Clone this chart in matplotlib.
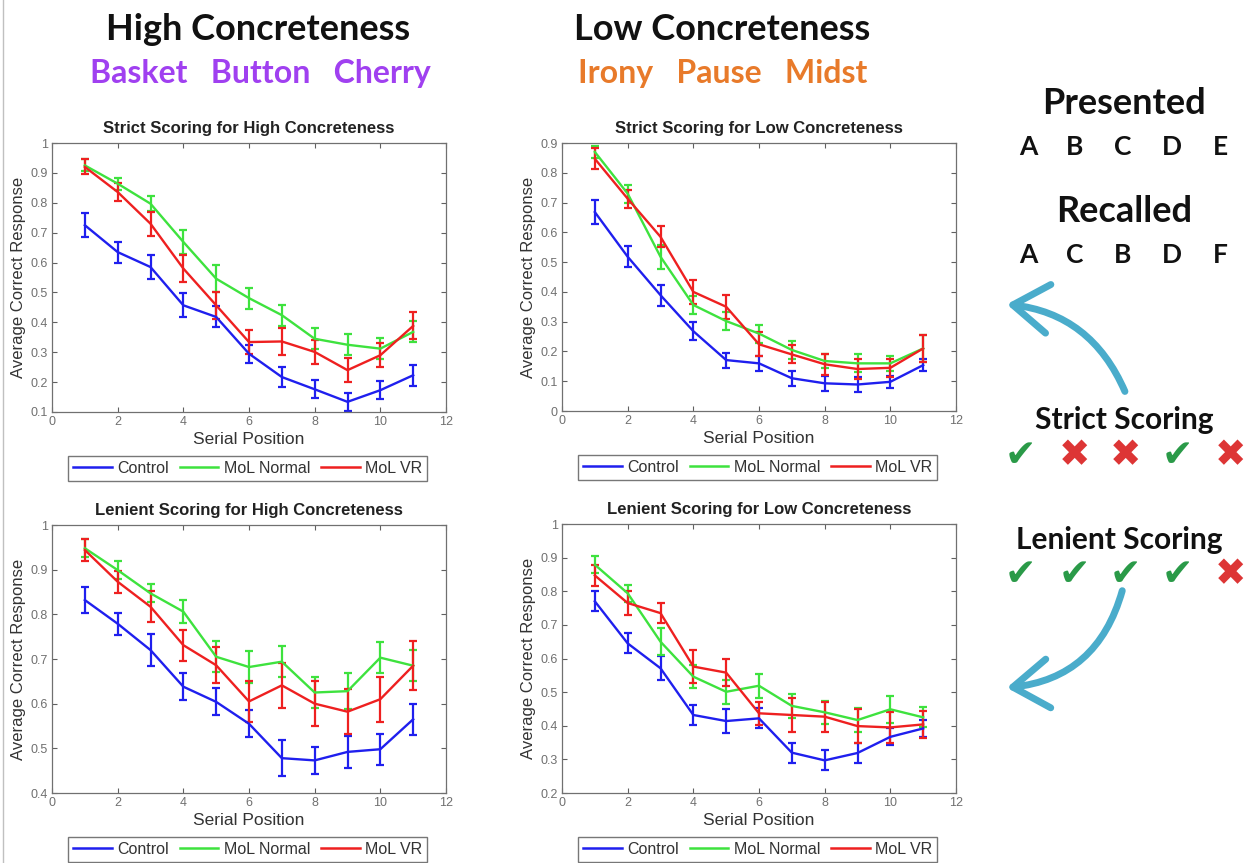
import numpy as np
import matplotlib.pyplot as plt
from matplotlib.patches import FancyArrowPatch, ArrowStyle
from matplotlib.lines import Line2D

W, H = 1257, 863

positions = np.arange(1, 12)
groups = ['Control', 'MoL Normal', 'MoL VR']
colors = ['#1f1fee', '#3ee23e', '#ee2020']

# strict scoring, high concreteness
sh_control = [0.725, 0.635, 0.585, 0.457, 0.418, 0.295, 0.217, 0.176, 0.134, 0.173, 0.223]
sh_normal = [0.925, 0.864, 0.797, 0.669, 0.546, 0.481, 0.424, 0.345, 0.325, 0.312, 0.368]
sh_vr = [0.920, 0.836, 0.730, 0.580, 0.457, 0.334, 0.336, 0.301, 0.240, 0.290, 0.388]
sh_control_err = [0.04, 0.035, 0.04, 0.04, 0.035, 0.03, 0.035, 0.03, 0.03, 0.03, 0.035]
sh_normal_err = [0.02, 0.02, 0.025, 0.04, 0.045, 0.035, 0.035, 0.035, 0.035, 0.035, 0.035]
sh_vr_err = [0.025, 0.03, 0.04, 0.045, 0.045, 0.04, 0.045, 0.04, 0.04, 0.04, 0.045]

# strict scoring, low concreteness
sl_control = [0.668, 0.518, 0.389, 0.268, 0.171, 0.160, 0.110, 0.093, 0.089, 0.098, 0.154]
sl_normal = [0.870, 0.730, 0.518, 0.356, 0.302, 0.260, 0.205, 0.168, 0.160, 0.160, 0.210]
sl_vr = [0.847, 0.713, 0.585, 0.400, 0.350, 0.224, 0.190, 0.157, 0.141, 0.145, 0.210]
sl_control_err = [0.04, 0.035, 0.035, 0.03, 0.025, 0.025, 0.025, 0.025, 0.025, 0.02, 0.02]
sl_normal_err = [0.02, 0.03, 0.04, 0.03, 0.03, 0.03, 0.03, 0.025, 0.03, 0.025, 0.045]
sl_vr_err = [0.035, 0.03, 0.035, 0.04, 0.04, 0.04, 0.03, 0.035, 0.035, 0.03, 0.045]

# lenient scoring, high concreteness
lh_control = [0.832, 0.779, 0.720, 0.638, 0.604, 0.555, 0.478, 0.473, 0.492, 0.498, 0.565]
lh_normal = [0.948, 0.899, 0.847, 0.806, 0.705, 0.682, 0.694, 0.625, 0.628, 0.703, 0.685]
lh_vr = [0.944, 0.873, 0.817, 0.731, 0.686, 0.605, 0.641, 0.600, 0.582, 0.610, 0.685]
lh_control_err = [0.03, 0.025, 0.035, 0.03, 0.03, 0.03, 0.04, 0.03, 0.035, 0.035, 0.035]
lh_normal_err = [0.02, 0.02, 0.02, 0.025, 0.035, 0.035, 0.035, 0.035, 0.04, 0.035, 0.035]
lh_vr_err = [0.025, 0.025, 0.035, 0.035, 0.04, 0.045, 0.05, 0.05, 0.05, 0.05, 0.055]

# lenient scoring, low concreteness
ll_control = [0.770, 0.645, 0.571, 0.432, 0.414, 0.422, 0.320, 0.297, 0.319, 0.367, 0.392]
ll_normal = [0.879, 0.794, 0.650, 0.546, 0.501, 0.519, 0.459, 0.440, 0.417, 0.449, 0.425]
ll_vr = [0.847, 0.765, 0.735, 0.576, 0.558, 0.437, 0.432, 0.427, 0.399, 0.395, 0.404]
ll_control_err = [0.03, 0.03, 0.035, 0.03, 0.035, 0.03, 0.03, 0.03, 0.03, 0.025, 0.025]
ll_normal_err = [0.025, 0.025, 0.04, 0.035, 0.035, 0.035, 0.035, 0.035, 0.035, 0.04, 0.03]
ll_vr_err = [0.03, 0.035, 0.03, 0.05, 0.04, 0.035, 0.05, 0.045, 0.05, 0.045, 0.04]

panels = [
    ('Strict Scoring for High Concreteness', (52, 143, 446, 412), (0.1, 1.0),
     [sh_control, sh_normal, sh_vr], [sh_control_err, sh_normal_err, sh_vr_err]),
    ('Strict Scoring for Low Concreteness', (562, 143, 956, 411), (0.0, 0.9),
     [sl_control, sl_normal, sl_vr], [sl_control_err, sl_normal_err, sl_vr_err]),
    ('Lenient Scoring for High Concreteness', (52, 525, 446, 793), (0.4, 1.0),
     [lh_control, lh_normal, lh_vr], [lh_control_err, lh_normal_err, lh_vr_err]),
    ('Lenient Scoring for Low Concreteness', (562, 524, 956, 793), (0.2, 1.0),
     [ll_control, ll_normal, ll_vr], [ll_control_err, ll_normal_err, ll_vr_err]),
]

plt.rcParams['font.family'] = ['Liberation Sans', 'DejaVu Sans']

fig = plt.figure(figsize=(W / 100, H / 100), dpi=100)


def rect(l, t, r, b):
    return [l / W, 1 - b / H, (r - l) / W, (b - t) / H]


for title, box, ylim, series, errs in panels:
    ax = fig.add_axes(rect(*box))
    handles = []
    for name, vals, err, c in zip(groups, series, errs, colors):
        ax.errorbar(positions, vals, yerr=err, color=c, lw=1.7, elinewidth=1.6,
                    capsize=3, capthick=1.6)
        handles.append(Line2D([], [], color=c, lw=1.8, label=name))
    ax.set_xlim(0, 12)
    ax.set_ylim(*ylim)
    ax.set_xticks(np.arange(0, 13, 2))
    ax.set_yticks(np.round(np.arange(ylim[0], ylim[1] + 0.001, 0.1), 1))
    ax.yaxis.set_major_formatter(plt.FuncFormatter(lambda v, p: ('%g' % round(v, 1))))
    ax.tick_params(direction='in', top=True, right=True, length=3.5, width=0.8,
                   labelsize=9, labelcolor='#707070', color='#606060', pad=3)
    for s in ax.spines.values():
        s.set_color('#707070')
        s.set_linewidth(0.9)
    ax.set_title(title, fontsize=12, fontweight='bold', color='#222222', pad=7)
    ax.set_xlabel('Serial Position', fontsize=12.5, color='#333333', labelpad=3)
    ax.set_ylabel('Average Correct Response', fontsize=12, color='#333333', labelpad=3)
    leg = ax.legend(handles=handles, loc='center', bbox_to_anchor=(0.497, -0.21), ncol=3,
                    fontsize=11.5, frameon=True, fancybox=False, edgecolor='#555555',
                    handlelength=2.4, columnspacing=0.7, handletextpad=0.35,
                    borderpad=0.3, borderaxespad=0)
    leg.get_frame().set_linewidth(1.0)
    for t in leg.get_texts():
        t.set_color('#333333')

hfont = ['Lato', 'DejaVu Sans']
fig.text(258 / W, 1 - 30 / H, 'High Concreteness', ha='center', va='center',
         fontsize=26, fontweight='bold', family=hfont, color='#111111')
fig.text(260 / W, 1 - 73 / H, 'Basket   Button   Cherry', ha='center', va='center',
         fontsize=23, fontweight='bold', family=hfont, color='#a040f0')
fig.text(722 / W, 1 - 30 / H, 'Low Concreteness', ha='center', va='center',
         fontsize=26, fontweight='bold', family=hfont, color='#111111')
fig.text(723 / W, 1 - 73 / H, 'Irony   Pause   Midst', ha='center', va='center',
         fontsize=23, fontweight='bold', family=hfont, color='#e87a2a')

letter_x = [1028, 1075, 1123, 1172, 1220]
presented = ['A', 'B', 'C', 'D', 'E']
recalled = ['A', 'C', 'B', 'D', 'F']
strict_marks = [True, False, False, True, False]
lenient_marks = [True, True, True, True, False]

fig.text(1124 / W, 1 - 103 / H, 'Presented', ha='center', va='center',
         fontsize=26, fontweight='bold', family=hfont, color='#111111')
fig.text(1124 / W, 1 - 211 / H, 'Recalled', ha='center', va='center',
         fontsize=26, fontweight='bold', family=hfont, color='#111111')
for x, a, b in zip(letter_x, presented, recalled):
    fig.text(x / W, 1 - 147 / H, a, ha='center', va='center', fontsize=19,
             fontweight='bold', family=hfont, color='#111111')
    fig.text(x / W, 1 - 255 / H, b, ha='center', va='center', fontsize=19,
             fontweight='bold', family=hfont, color='#111111')

fig.text(1124 / W, 1 - 420 / H, 'Strict Scoring', ha='center', va='center',
         fontsize=21.5, fontweight='bold', family=hfont, color='#111111')
fig.text(1119 / W, 1 - 540 / H, 'Lenient Scoring', ha='center', va='center',
         fontsize=21.5, fontweight='bold', family=hfont, color='#111111')
mark_x = [1020, 1074, 1125, 1177, 1230]
for x, s, l in zip(mark_x, strict_marks, lenient_marks):
    for y, ok in ((456, s), (575, l)):
        fig.text(x / W, 1 - y / H, '\u2714' if ok else '\u2716', ha='center', va='center',
                 fontsize=27, family=['DejaVu Sans'],
                 color='#2a9a48' if ok else '#dd3535')

astyle = ArrowStyle('->', head_length=0.8, head_width=0.55)
arrow1 = FancyArrowPatch((1126 / W, 1 - 394 / H), (1004 / W, 1 - 304 / H),
                         transform=fig.transFigure, connectionstyle='arc3,rad=0.3',
                         arrowstyle=astyle, mutation_scale=32, lw=5, color='#4aaccb')
arrow2 = FancyArrowPatch((1123 / W, 1 - 588 / H), (1004 / W, 1 - 688 / H),
                         transform=fig.transFigure, connectionstyle='arc3,rad=-0.35',
                         arrowstyle=astyle, mutation_scale=32, lw=5, color='#4aaccb')
fig.add_artist(arrow1)
fig.add_artist(arrow2)
fig.add_artist(Line2D([3 / W, 3 / W], [0, 1], color='#c0c0c0', lw=1))

fig.savefig('out.png', dpi=100)
